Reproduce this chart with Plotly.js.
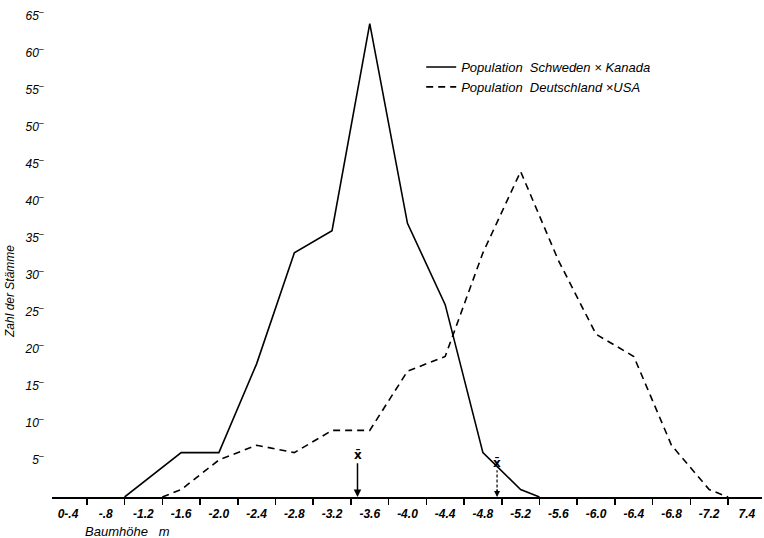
<!DOCTYPE html>
<html>
<head>
<meta charset="utf-8">
<script src="https://cdn.plot.ly/plotly-3.0.1.min.js"></script>
<style>html,body{margin:0;padding:0;background:#fff;}#chart{width:764px;height:538px;}</style>
</head>
<body>
<div id="chart"></div>
<script>
// Bin centres (m) and their printed labels
const binCenters = [0.2,0.6,1.0,1.4,1.8,2.2,2.6,3.0,3.4,3.8,4.2,4.6,5.0,5.4,5.8,6.2,6.6,7.0,7.4];
const binLabels  = ["0-.4","-.8","-1.2","-1.6","-2.0","-2.4","-2.8","-3.2","-3.6","-4.0","-4.4","-4.8","-5.2","-5.6","-6.0","-6.4","-6.8","-7.2","7.4"];
const binEdges   = [0.4,0.8,1.2,1.6,2.0,2.4,2.8,3.2,3.6,4.0,4.4,4.8,5.2,5.6,6.0,6.4,6.8,7.2];

// Population Schweden x Kanada
const swedenX = [0.8,1.4,1.8,2.2,2.6,3.0,3.4,3.8,4.2,4.6,5.0,5.2];
const swedenY = [0,6,6,18,33,36,64,37,26,6,1,0];

// Population Deutschland x USA
const germanyX = [1.2,1.4,1.8,2.2,2.6,3.0,3.4,3.8,4.2,4.6,5.0,5.4,5.8,6.2,6.6,7.0,7.2];
const germanyY = [0,1,5,7,6,9,9,17,19,33,44,32,22,19,7,1,0];

// Means (x-bar)
const meanX = [3.27, 4.75];

const yTicks = [5,10,15,20,25,30,35,40,45,50,55,60,65];

const fam = "Liberation Sans, Arial, sans-serif";

const traces = [
  {x: swedenX, y: swedenY, mode: "lines", name: "<i>Population  Schweden × Kanada</i>",
   line: {color: "#000", width: 1.6}},
  {x: germanyX, y: germanyY, mode: "lines", name: "<i>Population  Deutschland ×USA</i>",
   line: {color: "#000", width: 1.6, dash: "7px,5px"}},
  {x: binCenters, y: binCenters.map(() => null), xaxis: "x2", yaxis: "y", showlegend: false, hoverinfo: "skip", mode: "lines"}
];

const xRange = [0.03, 7.56];

const layout = {
  width: 764, height: 538,
  margin: {l: 52, r: 2, t: 8, b: 41},
  paper_bgcolor: "#fff", plot_bgcolor: "#fff",
  font: {family: fam, size: 12, color: "#000"},
  showlegend: true,
  legend: {x: 0.52, y: 0.91, xanchor: "left", yanchor: "top", bgcolor: "rgba(0,0,0,0)",
           font: {family: fam, size: 13, color: "#000"}, tracegroupgap: 0, itemwidth: 30},
  xaxis: {
    range: xRange, showgrid: false, zeroline: false,
    showline: true, linecolor: "#000", linewidth: 2,
    tickmode: "array", tickvals: binEdges, ticks: "outside", ticklen: 6, tickwidth: 1.5, tickcolor: "#000",
    showticklabels: false, fixedrange: true
  },
  xaxis2: {
    overlaying: "x", anchor: "y", side: "bottom", range: xRange,
    showgrid: false, zeroline: false, showline: false,
    tickmode: "array", tickvals: binCenters, ticktext: binLabels.map(s => "<b><i>" + s + "</i></b>"),
    ticks: "outside", ticklen: 6, tickcolor: "rgba(0,0,0,0)",
    tickfont: {family: fam, size: 12, color: "#000"}
  },
  yaxis: {
    range: [0, 66.1], showgrid: false, zeroline: false, showline: false,
    tickmode: "array", tickvals: yTicks, ticktext: yTicks.map(v => "<i>" + v + "</i><sup>–</sup>"),
    ticks: "outside", ticklen: 5, tickcolor: "rgba(0,0,0,0)",
    tickfont: {family: fam, size: 12, color: "#000"}
  },
  shapes: [
    {type: "line", xref: "x", yref: "y", x0: meanX[1], x1: meanX[1], y0: 0.6, y1: 3.6,
     line: {color: "#000", width: 1.2, dash: "3px,2px"}}
  ],
  annotations: [
    {x: meanX[0], y: 0, xref: "x", yref: "y", axref: "x", ayref: "y", ax: meanX[0], ay: 5.7,
     text: "<b>x̄</b>", showarrow: true, arrowhead: 2, arrowsize: 1, arrowwidth: 1.5, arrowcolor: "#000",
     font: {family: "DejaVu Sans", size: 12, color: "#000"}},
    {x: meanX[1], y: 0, xref: "x", yref: "y", ax: 0, ay: -9, text: "",
     showarrow: true, arrowhead: 2, arrowsize: 1, arrowwidth: 1.2, arrowcolor: "#000"},
    {x: meanX[1], y: 4.6, xref: "x", yref: "y", text: "<b>x̄</b>", showarrow: false,
     font: {family: "DejaVu Sans", size: 12, color: "#000"}},
    {x: (83 - 52) / 710, y: -(531 - 497) / 489, xref: "paper", yref: "paper", text: "<i>Baumhöhe   m</i>", showarrow: false,
     xanchor: "left", yanchor: "middle", font: {family: fam, size: 13, color: "#000"}},
    {x: (10 - 52) / 710, y: (497 - 292) / 489, xref: "paper", yref: "paper", text: "<i>Zahl der Stämme</i>", showarrow: false,
     textangle: -90, xanchor: "center", yanchor: "middle", font: {family: fam, size: 12, color: "#000"}}
  ]
};

Plotly.newPlot("chart", traces, layout, {displayModeBar: false, staticPlot: true});
</script>
</body>
</html>
